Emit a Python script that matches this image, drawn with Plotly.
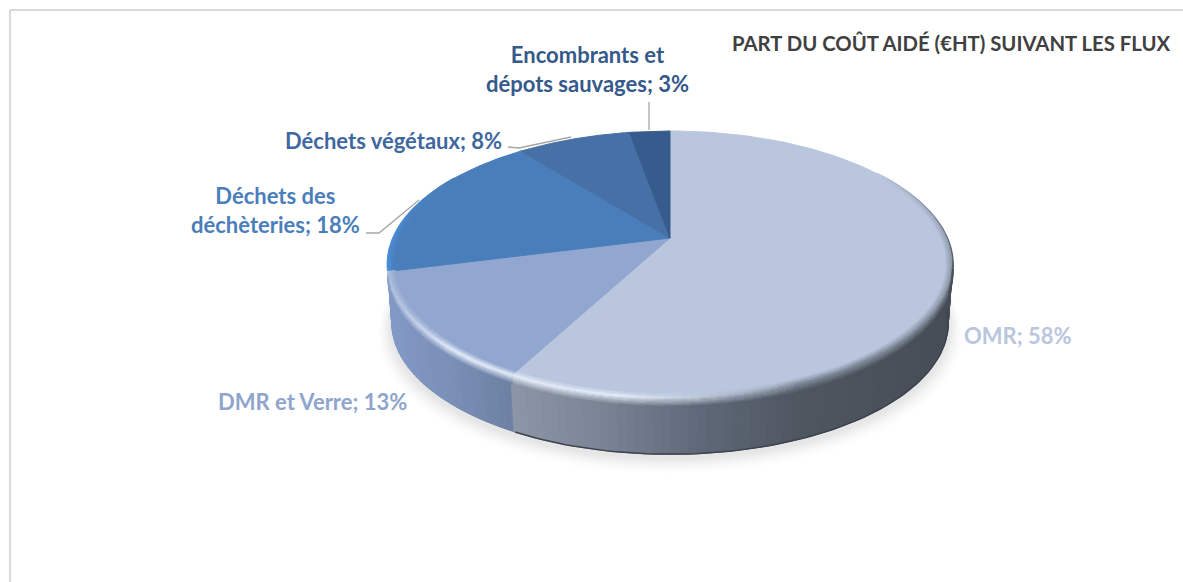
import math
import plotly.graph_objects as go

categories = ["OMR", "DMR et Verre", "Déchets des déchèteries", "Déchets végétaux", "Encombrants et dépots sauvages"]
values = [57.8, 13.2, 18.3, 7.9, 2.8]
label_texts = ["OMR; 58%", "DMR et Verre; 13%", "Déchets des<br>déchèteries; 18%", "Déchets végétaux; 8%", "Encombrants et<br>dépots sauvages; 3%"]
title_text = "PART DU COÛT AIDÉ (€HT) SUIVANT LES FLUX"

face_colors = ["#b9c6dd", "#92a7cf", "#4a7eba", "#4670a6", "#365c8d"]
label_colors = ["#b9c6dd", "#8fa5cd", "#4a7ebb", "#3f689f", "#35598a"]
label_pos = [(1018, 335), (312, 401), (275, 210), (393, 140), (587, 69)]
leaders = [[(366, 233), (379, 233), (419, 200)], [(508, 147), (519, 148), (571, 137)], [(649, 102), (649, 130)]]

CX, CY, A, B, K = 670, 238, 277, 128.2, 0.198
DY, BOT = 59.4, 0.985


def proj(theta, r=1.0, dy=0.0):
    t = math.radians(theta)
    u, v = r * math.sin(t), r * math.cos(t)
    w = 1 + K * v
    return CX + A * u / w, CY - B * v / w + dy


def hx(c):
    return tuple(int(c[i:i + 2], 16) for i in (1, 3, 5))


def mix(a, b, f):
    f = max(0.0, min(1.0, f))
    return tuple(a[i] + (b[i] - a[i]) * f for i in range(3))


def to_hex(c):
    return "#%02x%02x%02x" % tuple(int(round(x)) for x in c)


def ramp(anchors, x):
    if x <= anchors[0][0]:
        return hx(anchors[0][1])
    for (x0, c0), (x1, c1) in zip(anchors, anchors[1:]):
        if x <= x1:
            return mix(hx(c0), hx(c1), (x - x0) / (x1 - x0))
    return hx(anchors[-1][1])


wall_omr = [(515, "#8c95a6"), (600, "#7b8494"), (700, "#5f6878"), (800, "#4e5660"), (950, "#474d56")]
wall_dmr = [(390, "#8299c6"), (450, "#7a8fb6"), (515, "#6c7fa1")]

fig = go.Figure()


def poly(xs, ys, color):
    fig.add_trace(go.Scatter(x=xs, y=ys, mode="lines", fill="toself", fillcolor=color,
                             line=dict(color=color, width=1), hoverinfo="skip", showlegend=False))


def arc(t0, t1, r=1.0, dy=0.0, n=120):
    return [proj(t0 + (t1 - t0) * i / n, r, dy) for i in range(n + 1)]


# soft ground shadow
for i in range(12, 0, -1):
    col = to_hex(mix((255, 255, 255), (226, 226, 226), (1 - i / 12) ** 1.5))
    pts = arc(0, 360, 0.985 + 0.0042 * i, DY + 3 + 0.55 * i, 180)
    poly([p[0] for p in pts], [p[1] for p in pts], col)

# slice boundaries, clockwise from the top
bounds = [0]
for val in values:
    bounds.append(bounds[-1] + 360 * val / sum(values))

# side wall
buckets = {}
seg = 1.5
th = 78.0
while th < 262:
    t1 = th + seg
    a, b = proj(th), proj(t1)
    c, d = proj(t1, BOT, DY), proj(th, BOT, DY)
    anchors = wall_omr if th + seg / 2 < bounds[1] else wall_dmr
    col = to_hex(ramp(anchors, (a[0] + b[0]) / 2))
    bx, by = buckets.setdefault(col, ([], []))
    bx += [a[0], b[0], c[0], d[0], a[0], None]
    by += [a[1], b[1], c[1], d[1], a[1], None]
    th = t1
for col, (bx, by) in buckets.items():
    poly(bx, by, col)

# dark foot of the wall
pts = arc(bounds[1], 95, BOT, DY, 80)
fig.add_trace(go.Scatter(x=[p[0] for p in pts], y=[p[1] for p in pts], mode="lines",
                         line=dict(color="#3d434f", width=1.5), hoverinfo="skip", showlegend=False))

# top face slices
for i, val in enumerate(values):
    pts = [(CX, CY)] + arc(bounds[i], bounds[i + 1], 1.0, 0.0, 160) + [(CX, CY)]
    poly([p[0] for p in pts], [p[1] for p in pts], face_colors[i])


def slice_index(theta):
    for i in range(len(values)):
        if theta < bounds[i + 1]:
            return i
    return len(values) - 1


# bevel along the rim
lines = {}


def add_line(col, p, q):
    lx, ly = lines.setdefault(col, ([], []))
    lx += [p[0], q[0], None]
    ly += [p[1], q[1], None]


step = 1.5
th = 58.0
while th < 300:
    t1 = th + step
    mid = th + step / 2
    idx = slice_index(mid)
    xm = proj(mid)[0]
    face = hx(face_colors[idx])
    inner_fade = 1.0
    if mid < 100:
        inner_fade = (mid - 58) / 42
    if idx < 2:
        wall = ramp(wall_omr if idx == 0 else wall_dmr, xm)
        h = 1.0 if 450 < xm < 620 else (max(0.0, (800 - xm) / 180) if xm >= 620 else 0.45 + 0.55 * (xm - 390) / 60)
        peak = mix(mix(face, wall, 0.5), (230, 238, 251), h)
        if mid >= 100:
            for k in range(9):
                off = k * 1.1
                col = to_hex(mix(peak, wall, k / 8))
                add_line(col, proj(th, 1.0, off), proj(t1, 1.0, off))
        peak = mix(face, peak, inner_fade)
        fade = 1.0
    else:
        peak = (74, 144, 220)
        fade = max(0.0, (300 - mid) / 38)
    for k in range(6):
        r = 1 - k * 0.005
        mx = mix(peak, face, k / 5) if idx < 2 else mix(face, peak, fade * (1 - k / 5))
        add_line(to_hex(mx), proj(th, r), proj(t1, r))
    th = t1

for col, (lx, ly) in lines.items():
    fig.add_trace(go.Scatter(x=lx, y=ly, mode="lines", line=dict(color=col, width=1.6),
                             hoverinfo="skip", showlegend=False))

# thin dark edge at the right-hand back of the rim
edge = {}
th = 56.0
while th < 102:
    f = (th - 56) / 46
    col = to_hex(mix(hx(face_colors[0]), (70, 76, 86), f))
    p, q = proj(th, 1.002), proj(th + 1.5, 1.002)
    ex, ey = edge.setdefault(col, ([], []))
    ex += [p[0], q[0], None]
    ey += [p[1], q[1], None]
    th += 1.5
for col, (ex, ey) in edge.items():
    fig.add_trace(go.Scatter(x=ex, y=ey, mode="lines", line=dict(color=col, width=1.2),
                             hoverinfo="skip", showlegend=False))

# leader lines
for pts in leaders:
    fig.add_trace(go.Scatter(x=[p[0] for p in pts], y=[p[1] for p in pts], mode="lines",
                             line=dict(color="#a6a6a6", width=1.3), hoverinfo="skip", showlegend=False))

annotations = [dict(x=x, y=y, text="<b>%s</b>" % t, xref="x", yref="y", showarrow=False, xanchor="center",
                    yanchor="middle", align="center", font=dict(family="Lato", size=22, color=c))
               for (x, y), t, c in zip(label_pos, label_texts, label_colors)]
annotations.append(dict(x=730, y=43, text="<b>%s</b>" % title_text, xref="x", yref="y", showarrow=False,
                        xanchor="left", yanchor="middle", font=dict(family="Lato", size=20.3, color="#404040")))

fig.update_layout(
    width=1183, height=582, margin=dict(l=0, r=0, t=0, b=0),
    paper_bgcolor="white", plot_bgcolor="white", showlegend=False,
    xaxis=dict(range=[0, 1183], visible=False, fixedrange=True),
    yaxis=dict(range=[582, 0], visible=False, fixedrange=True),
    annotations=annotations,
    shapes=[
        dict(type="line", xref="x", yref="y", x0=10, y0=10, x1=1183, y1=10, line=dict(color="#d9d9d9", width=2)),
        dict(type="line", xref="x", yref="y", x0=10, y0=10, x1=10, y1=582, line=dict(color="#d9d9d9", width=2)),
    ],
)
fig.write_html("out.html", config=dict(displayModeBar=False),
               post_script="document.body.style.margin='0';document.body.style.overflow='hidden';")
